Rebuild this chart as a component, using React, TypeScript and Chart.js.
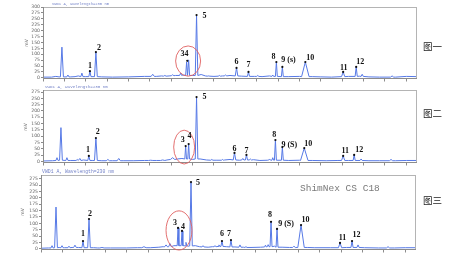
import React, { useEffect, useRef } from "react";
import { Chart, registerables } from "chart.js";
Chart.register(...registerables);

const W = 449;
const H = 266;

// x ticks (min) and y ticks (mV)
const xTicks = [0, 2, 4, 6, 8, 10, 12, 14, 16, 18, 20, 22, 24, 26, 28, 30, 32, 34];
const yTicksA = [0, 25, 50, 75, 100, 125, 150, 175, 200, 225, 250, 275, 300];
const yTicksB = [0, 25, 50, 75, 100, 125, 150, 175, 200, 225, 250, 275];

// baseline points [time, mV]
const base1 = [[0,3],[0.8,3],[1.2,6],[1.5,4],[2.6,4],[3.0,5],[3.3,8],[4.0,5],[5.5,4],[6.5,3],[8,4],[9.5,6],[10.6,6],[11.1,8],[11.8,8],[12.4,10],[13.1,12],[14.0,10],[14.8,14],[15.2,8],[16,6],[16.8,8],[17.5,10],[18.6,7],[19.8,6],[20.5,5],[21.2,8],[23,5],[24,6],[25.2,5],[26,4],[27,3],[28.6,6],[29.6,7],[30.5,4],[31.5,3],[33,3],[34,6],[35,5]];
const base2 = [[0,2],[0.9,3],[1.5,5],[2.6,4],[3.0,4],[3.8,6],[4.6,4],[5.5,3],[6.5,3],[7.5,3],[8.5,3],[9.5,4],[10.6,4],[11.6,6],[12.6,10],[13.0,12],[14.0,8],[14.7,10],[15.3,6],[16.2,5],[17.0,6],[17.5,8],[18.4,5],[19.7,7],[20.3,4],[21.0,5],[23.0,4],[24,5],[25.2,4],[26.5,3],[27.6,4],[28.6,4],[30.5,3],[31.5,3],[33,3],[34,4],[35,4]];
const base3 = [[0,2],[0.7,3],[1.7,5],[2.2,4],[2.9,5],[3.5,5],[4.2,4],[4.9,4],[5.3,3],[6.5,3],[8,3],[9.0,4],[10.2,4],[11,6],[11.4,8],[12.4,12],[13.35,12],[13.8,10],[14.4,12],[14.8,8],[15.6,6],[16.0,8],[17.3,8],[18.1,7],[18.9,6],[19.6,5],[20.5,6],[21.8,10],[22.5,6],[23.2,5],[24.9,5],[25.5,4],[27,4],[28.5,5],[30.2,4],[31.5,3],[33,3],[34,4],[35,4]];

// peaks [time, apex mV, half width (min), foot mV]
const peaks1 = [[1.77,130,0.14,4],[2.33,12,0.1,4],[3.64,20,0.1,5],[4.39,28,0.1,5],[4.95,109,0.13,5],[10.27,15,0.15,6],[11.4,10,0.12,7],[12.13,13,0.12,9],[12.88,20,0.1,10],[13.44,67,0.09,10],[13.63,76,0.09,10],[14.37,266,0.12,10],[15.49,8,0.12,7],[16.5,10,0.1,7],[17.08,12,0.12,8],[18.11,42,0.12,8],[19.23,25,0.1,6],[20.1,10,0.1,6],[21.5,12,0.08,6],[21.84,67,0.09,6],[22.4,46,0.09,5],[24.55,67,0.35,5],[28.09,25,0.15,5],[29.31,46,0.1,6],[29.87,15,0.1,6],[32.67,8,0.15,3]];
const peaks2 = [[1.31,15,0.1,4],[1.68,134,0.13,5],[2.24,15,0.1,4],[3.2,8,0.1,4],[3.45,12,0.1,4],[4.29,22,0.1,4],[4.95,93,0.13,4],[6.07,8,0.15,3],[7.09,12,0.15,3],[10.08,5,0.2,4],[11.2,6,0.2,4],[12.13,15,0.2,8],[13.35,61,0.08,10],[13.63,69,0.08,10],[14.37,255,0.12,10],[15.8,8,0.1,5],[16.8,8,0.1,5],[17.92,34,0.12,6],[18.7,12,0.1,6],[19.04,26,0.1,6],[19.4,10,0.1,6],[21.2,10,0.1,5],[21.5,15,0.08,5],[21.75,85,0.09,5],[22.4,57,0.09,5],[24.45,53,0.35,4],[28.09,22,0.15,4],[29.12,26,0.1,4],[29.77,10,0.1,4],[32.57,8,0.15,3]];
const peaks3 = [[1.03,12,0.1,3],[1.4,164,0.13,4],[1.96,12,0.1,4],[2.61,10,0.1,4],[3.17,14,0.12,5],[3.92,30,0.1,4],[4.48,117,0.12,4],[5.69,5,0.2,3],[9.61,8,0.2,4],[11.67,15,0.15,7],[12.04,20,0.12,8],[12.79,82,0.08,12],[13.16,70,0.08,12],[13.53,25,0.08,11],[14.0,262,0.12,11],[15.12,12,0.1,7],[16.24,12,0.1,8],[16.61,15,0.08,9],[16.89,30,0.1,9],[17.73,34,0.1,7],[18.57,15,0.1,6],[19.13,8,0.1,5],[20.95,14,0.08,7],[21.2,16,0.08,8],[21.47,106,0.09,8],[22.03,78,0.09,6],[23.61,10,0.12,5],[24.27,93,0.3,5],[27.91,23,0.15,4],[29.03,30,0.1,5],[29.59,15,0.1,5],[32.39,8,0.15,3]];

// peak labels [text, apex time, apex mV, text time, text mV]
const labels1 = [["1",4.39,28,4.39,50],["2",4.95,109,5.23,126],["34",13.5,72,13.25,101],["5",14.37,266,15.12,262],["6",18.11,42,18.11,67],["7",19.23,25,19.23,54],["8",21.84,67,21.56,88],["9 (s)",22.4,46,22.97,75],["10",24.55,67,25.01,84],["11",28.09,25,28.14,42],["12",29.31,46,29.68,67]];
const labels2 = [["1",4.29,22,4.2,45],["2",4.95,93,5.13,117],["3",13.35,61,13.07,85],["4",13.63,69,13.72,101],["5",14.37,255,15.12,255],["6",17.92,34,17.92,49],["7",19.04,26,19.04,42],["8",21.75,85,21.65,104],["9 (S)",22.4,57,23.05,65],["10",24.45,53,24.83,69],["11",28.09,22,28.28,42],["12",29.12,26,29.59,45]];
const labels3 = [["1",3.92,30,3.92,58],["2",4.48,117,4.57,137],["3",12.79,82,12.51,101],["4",13.16,70,13.25,85],["5",14.0,262,14.65,259],["6",16.89,30,16.89,58],["7",17.73,34,17.55,58],["8",21.47,106,21.37,133],["9 (S)",22.03,78,22.87,97],["10",24.27,93,24.69,113],["11",27.91,23,28.14,42],["12",29.03,30,29.45,54]];

// circled region [center time, center mV, radius time, radius mV]
const ring1 = [13.58, 71, 1.17, 64];
const ring2 = [13.21, 57, 0.98, 67];
const ring3 = [12.88, 72, 1.21, 77];

const headerText = "VWD1 A, Wavelength=230 nm";
const panelNames = ["图一", "图二", "图三"];

function trace(base: number[][], peaks: number[][]) {
  const pts: { x: number; y: number }[] = base
    .filter(([t]) => !peaks.some(([pt, , w]) => Math.abs(t - pt) <= w + 0.06))
    .map(([t, v]) => ({ x: t, y: v }));
  for (const [t, h, w, b] of peaks) {
    pts.push({ x: t - w, y: b }, { x: t, y: h }, { x: t + w, y: b });
  }
  pts.sort((a, b) => a.x - b.x);
  return pts;
}

type Panel = {
  left: number; right: number; top: number; bottom: number;
  ymin: number; ymax: number; yTicks: number[];
  base: number[][]; peaks: number[][]; labels: any[]; ring: number[];
  header: { x: number; y: number; size: number };
  unit: { x: number; y: number };
  extra?: { text: string; x: number; y: number };
};

const panels: Panel[] = [
  { left: 43, right: 417, top: 7, bottom: 79, ymin: -5, ymax: 300, yTicks: yTicksA, base: base1, peaks: peaks1, labels: labels1, ring: ring1, header: { x: 52, y: 4, size: 3.8 }, unit: { x: 27, y: 43 } },
  { left: 43, right: 417, top: 90, bottom: 163, ymin: -6, ymax: 283, yTicks: yTicksB, base: base2, peaks: peaks2, labels: labels2, ring: ring2, header: { x: 45, y: 87, size: 4.2 }, unit: { x: 26, y: 127 } },
  { left: 41, right: 416, top: 175, bottom: 250, ymin: -5, ymax: 290, yTicks: yTicksB, base: base3, peaks: peaks3, labels: labels3, ring: ring3, header: { x: 42, y: 171.5, size: 4.8 }, unit: { x: 23, y: 212 }, extra: { text: "ShimNex CS C18", x: 300, y: 188 } },
];

function PanelChart({ p }: { p: Panel }) {
  const ref = useRef<HTMLCanvasElement>(null);
  useEffect(() => {
    const canvas = ref.current!;
    const deco = {
      id: "deco",
      afterDraw(chart: any) {
        const ctx = chart.ctx;
        const xs = chart.scales.x;
        const ys = chart.scales.y;
        const a = chart.chartArea;
        ctx.save();
        // frame
        ctx.strokeStyle = "#b4b4b4";
        ctx.lineWidth = 1;
        ctx.strokeRect(a.left + 0.5, a.top + 0.5, a.right - a.left - 1, a.bottom - a.top - 1);
        ctx.strokeStyle = "#8c8c8c";
        ctx.beginPath();
        ctx.moveTo(a.left + 0.5, a.top);
        ctx.lineTo(a.left + 0.5, a.bottom - 0.5);
        ctx.lineTo(a.right, a.bottom - 0.5);
        ctx.stroke();
        // header
        ctx.fillStyle = "#7483c8";
        ctx.font = `${p.header.size}px 'Liberation Mono'`;
        ctx.textBaseline = "middle";
        ctx.textAlign = "left";
        ctx.fillText(headerText, p.header.x, p.header.y);
        // unit
        ctx.save();
        ctx.translate(p.unit.x, p.unit.y);
        ctx.rotate(-Math.PI / 2);
        ctx.fillStyle = "#666";
        ctx.font = "4.5px 'DejaVu Sans'";
        ctx.textAlign = "center";
        ctx.fillText("mV", 0, 0);
        ctx.restore();
        // ring
        const [rt, rv, rrt, rrv] = p.ring;
        const cx = xs.getPixelForValue(rt);
        const cy = ys.getPixelForValue(rv);
        const rx = Math.abs(xs.getPixelForValue(rt + rrt) - cx);
        const ry = Math.abs(ys.getPixelForValue(rv + rrv) - cy);
        ctx.strokeStyle = "#e06060";
        ctx.lineWidth = 0.9;
        ctx.beginPath();
        ctx.ellipse(cx, cy, rx, ry, 0, 0, Math.PI * 2);
        ctx.stroke();
        // labels
        for (const [text, pt, pv, lt, lv] of p.labels) {
          const dx = xs.getPixelForValue(pt);
          const dy = ys.getPixelForValue(pv);
          ctx.fillStyle = "#111";
          ctx.beginPath();
          ctx.arc(dx, dy, 1.1, 0, Math.PI * 2);
          ctx.fill();
          ctx.font = "bold 8px 'Liberation Serif'";
          ctx.textAlign = "center";
          ctx.textBaseline = "middle";
          ctx.fillText(text, xs.getPixelForValue(lt), ys.getPixelForValue(lv));
        }
        if (p.extra) {
          ctx.fillStyle = "#7a7a7a";
          ctx.font = "9.5px 'Liberation Mono'";
          ctx.textAlign = "left";
          ctx.textBaseline = "middle";
          ctx.fillText(p.extra.text, p.extra.x, p.extra.y);
        }
        ctx.restore();
      },
    };
    const chart = new Chart(canvas, {
      type: "line",
      data: {
        datasets: [
          {
            data: trace(p.base, p.peaks),
            borderColor: "#5679e6",
            borderWidth: 1,
            pointRadius: 0,
            tension: 0,
            fill: false,
          },
        ],
      },
      options: {
        animation: false,
        responsive: false,
        events: [],
        layout: { padding: { left: 0, top: p.top, right: W - p.right, bottom: H - p.bottom - 3 } },
        plugins: { legend: { display: false }, tooltip: { enabled: false }, title: { display: false } },
        scales: {
          x: {
            type: "linear",
            min: 0,
            max: 35,
            afterBuildTicks: (s: any) => { s.ticks = xTicks.map((v) => ({ value: v })); },
            afterFit: (s: any) => { s.height = 3; },
            grid: { drawOnChartArea: false, drawTicks: true, tickLength: 2.5, color: "#8c8c8c" },
            border: { display: false },
            ticks: { display: false },
          },
          y: {
            type: "linear",
            min: p.ymin,
            max: p.ymax,
            afterBuildTicks: (s: any) => { s.ticks = p.yTicks.map((v) => ({ value: v })); },
            afterFit: (s: any) => { s.width = p.left; },
            grid: { drawOnChartArea: false, drawTicks: true, tickLength: 2, color: "#8c8c8c" },
            border: { display: false },
            ticks: { autoSkip: false, color: "#666", padding: 1, font: { size: 4.6, family: "'DejaVu Sans'" } },
          },
        },
      } as any,
      plugins: [deco],
    });
    return () => chart.destroy();
  }, [p]);
  return (
    <canvas
      ref={ref}
      width={W}
      height={H}
      style={{ position: "absolute", left: 0, top: 0, width: W, height: H }}
    />
  );
}

export default function App() {
  const nameY = [46, 113, 200];
  return (
    <div style={{ position: "fixed", left: 0, top: 0, width: W, height: H, background: "#fff", overflow: "hidden" }}>
      {panels.map((p, i) => (
        <PanelChart key={i} p={p} />
      ))}
      {panelNames.map((n, i) => (
        <div
          key={n}
          style={{
            position: "absolute",
            left: 423,
            top: nameY[i] - 7,
            fontSize: 9.5,
            lineHeight: "14px",
            fontFamily: "'Noto Sans CJK SC'",
            color: "#222",
            whiteSpace: "nowrap",
          }}
        >
          {n}
        </div>
      ))}
    </div>
  );
}
